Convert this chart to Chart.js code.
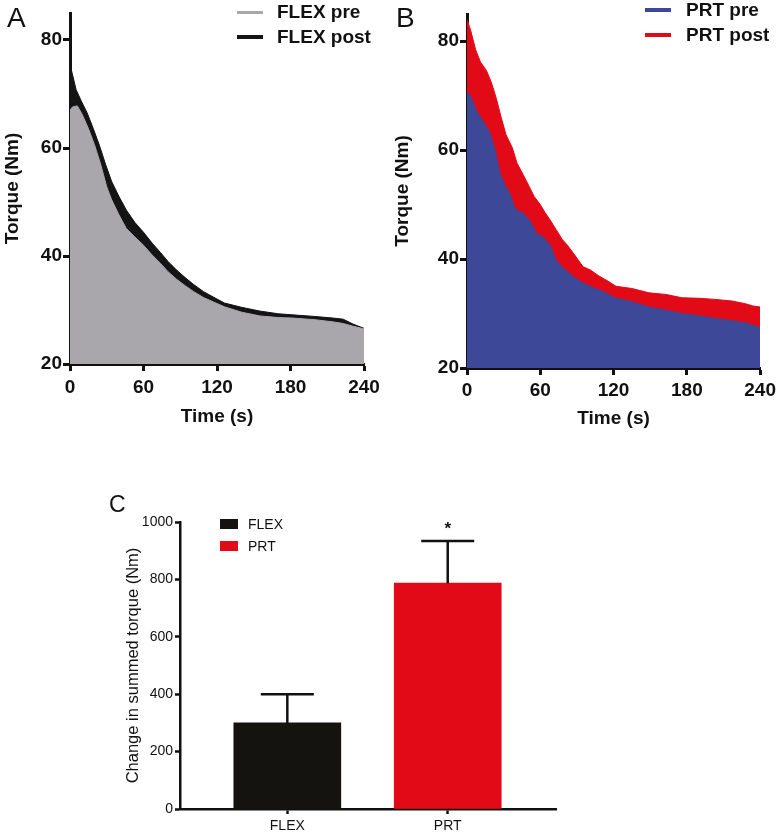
<!DOCTYPE html>
<html lang="en">
<head>
  <meta charset="UTF-8" />
  <title>Torque decline during fatiguing contractions</title>
  <script src="https://cdn.jsdelivr.net/npm/chart.js"></script>
  <style>
    body { margin: 0; background: #fff; font-family: "Liberation Sans", Arial, sans-serif; color: #111; }
    #page { position: relative; width: 780px; height: 836px; overflow: hidden; }
    canvas { position: absolute; }
    .letter { position: absolute; font-weight: normal; }
    .row { position: absolute; white-space: nowrap; }
    .row span { position: absolute; left: 0; }
  </style>
</head>
<body>
<div id="page">
  <canvas id="chartA" width="390" height="430" style="left:0;top:0"></canvas>
  <canvas id="chartB" width="390" height="432" style="left:390px;top:0"></canvas>
  <canvas id="chartC" width="780" height="366" style="left:0;top:470px"></canvas>

  <div class="letter" style="left:7px;top:4px;font-size:28px;line-height:28px">A</div>
  <div class="letter" style="left:396px;top:4px;font-size:28px;line-height:28px">B</div>
  <div class="letter" style="left:109px;top:493px;font-size:23px;line-height:23px">C</div>
</div>

<script>
  // Panel A - FLEX group, torque (Nm) over time (s)
  const flexPreTime = [0, 2, 6, 10, 15, 20, 25, 30, 34, 40, 46, 53, 60, 67, 74, 80, 87, 94, 101, 109, 117, 126, 140, 155, 170, 182, 200, 215, 223, 231, 240];
  const flexPreNm   = [67.0, 67.6, 67.8, 66.2, 63.6, 60.6, 57.0, 52.8, 50.4, 47.6, 45.1, 43.5, 42.0, 40.2, 38.6, 37.1, 35.7, 34.5, 33.4, 32.3, 31.5, 30.6, 29.6, 28.9, 28.6, 28.5, 28.2, 27.8, 27.5, 27.0, 26.5];
  const flexPostTime = [0, 5, 9, 14, 19, 24, 29, 34, 40, 46, 53, 60, 67, 74, 80, 87, 94, 101, 109, 117, 126, 140, 155, 170, 182, 200, 215, 223, 231, 240];
  const flexPostNm   = [75.5, 70.8, 68.8, 66.5, 63.6, 60.5, 57.0, 53.8, 51.0, 48.5, 46.2, 44.4, 42.4, 40.6, 39.0, 37.4, 36.0, 34.7, 33.4, 32.4, 31.3, 30.5, 29.8, 29.3, 29.1, 28.8, 28.5, 28.3, 27.4, 26.6];

  // Panel B - PRT group
  const prtPreTime = [0, 3, 8, 14, 19, 21, 23, 27, 31, 35, 39, 41, 46, 51, 54, 57, 62, 68, 73, 79, 87, 95, 103, 110, 122, 133, 149, 163, 176, 190, 203, 217, 230, 234, 240];
  const prtPreNm   = [70.6, 69.9, 67.1, 65.0, 63.1, 61.5, 60.1, 55.8, 53.6, 52.1, 49.5, 49.0, 48.4, 47.2, 46.0, 44.7, 44.1, 42.6, 39.8, 38.3, 36.8, 35.6, 34.8, 34.2, 32.8, 32.3, 31.2, 30.6, 30.0, 29.6, 29.1, 28.7, 28.2, 27.8, 27.5];
  const prtPostTime = [0, 3, 7, 11, 16, 20, 24, 28, 32, 37, 41, 46, 51, 55, 60, 64, 68, 73, 78, 82, 88, 95, 101, 108, 115, 122, 135, 149, 163, 176, 190, 203, 217, 228, 234, 240];
  const prtPostNm   = [84.0, 82.0, 78.5, 76.2, 74.6, 72.4, 69.5, 66.0, 62.8, 60.5, 57.6, 55.5, 53.3, 51.5, 50.0, 48.5, 47.2, 45.4, 43.6, 42.6, 40.8, 38.6, 38.0, 36.9, 36.0, 35.0, 34.6, 33.8, 33.5, 32.9, 32.8, 32.6, 32.3, 31.8, 31.4, 31.2];

  const timeTicks = [0, 60, 120, 180, 240];
  const torqueTicks = [20, 40, 60, 80];

  // Panel C - change in summed torque, mean and SEM
  const groups = ['FLEX', 'PRT'];
  const changeMean = [300, 787];
  const changeSem = [100, 147];
  const changeMark = ['', '*'];
  const groupColors = ['#15130f', '#e20a17'];

  Chart.defaults.font.family = '"Liberation Sans", Arial, sans-serif';
  Chart.defaults.color = '#111';

  const boldFont = { size: 19, weight: 'bold' };
  const axisBorder = { display: true, color: '#111', width: 3 };
  const tickGrid = len => ({ display: true, drawOnChartArea: false, drawTicks: true, tickLength: len, tickWidth: 3, tickColor: '#111' });

  function pts(t, v) {
    return t.map((x, i) => ({ x: x, y: v[i] }));
  }

  function torqueChart(id, sets, box) {
    return new Chart(document.getElementById(id), {
      type: 'line',
      data: {
        datasets: sets.map(s => ({
          label: s.label,
          data: pts(s.t, s.v),
          fill: 'start',
          backgroundColor: s.color,
          borderColor: s.color,
          borderWidth: 1,
          pointRadius: 0,
          tension: 0
        }))
      },
      options: {
        responsive: false,
        animation: false,
        events: [],
        layout: { padding: { top: box.top, right: box.right, left: 0, bottom: 0 } },
        plugins: { legend: { display: false }, tooltip: { enabled: false } },
        scales: {
          x: {
            type: 'linear', min: 0, max: 240,
            afterBuildTicks: s => { s.ticks = timeTicks.map(v => ({ value: v })); },
            afterFit: s => { s.height = box.xh; },
            border: axisBorder,
            grid: tickGrid(7),
            ticks: { font: boldFont, padding: box.xpad, maxRotation: 0 },
            title: { display: true, text: 'Time (s)', font: boldFont, padding: { top: 0, bottom: 1.5 } }
          },
          y: {
            min: 20, max: 85,
            afterBuildTicks: s => { s.ticks = torqueTicks.map(v => ({ value: v })); },
            afterFit: s => { s.width = box.yw; },
            border: axisBorder,
            grid: tickGrid(7),
            ticks: { font: boldFont, padding: 1 },
            title: { display: true, text: 'Torque (Nm)', font: boldFont, padding: { top: 1, bottom: 0 } }
          }
        }
      }
    });
  }

  const setsA = [
    { label: 'FLEX pre', t: flexPreTime, v: flexPreNm, color: '#a9a7ab', line: 3 },
    { label: 'FLEX post', t: flexPostTime, v: flexPostNm, color: '#141414', line: 4 }
  ];
  const setsB = [
    { label: 'PRT pre', t: prtPreTime, v: prtPreNm, color: '#3d4898', line: 4 },
    { label: 'PRT post', t: prtPostTime, v: prtPostNm, color: '#e20a17', line: 4 }
  ];

  torqueChart('chartA', setsA, { top: 13, right: 26, yw: 70, xh: 66, xpad: 5 });
  torqueChart('chartB', setsB, { top: 14, right: 18, yw: 77, xh: 64, xpad: 4 });

  // error bars + significance mark for panel C
  const errorBars = {
    id: 'errorBars',
    afterDatasetsDraw(chart) {
      const { ctx, scales: { x, y } } = chart;
      ctx.save();
      ctx.strokeStyle = '#111';
      ctx.lineWidth = 2.5;
      ctx.fillStyle = '#111';
      ctx.font = 'bold 17px "Liberation Sans", Arial, sans-serif';
      ctx.textAlign = 'center';
      changeMean.forEach((m, i) => {
        const px = x.getPixelForValue(i + 1);
        const top = y.getPixelForValue(m + changeSem[i]);
        ctx.beginPath();
        ctx.moveTo(px, y.getPixelForValue(m));
        ctx.lineTo(px, top);
        ctx.moveTo(px - 26.5, top);
        ctx.lineTo(px + 26.5, top);
        ctx.stroke();
        if (changeMark[i]) ctx.fillText(changeMark[i], px, top - 7);
      });
      ctx.restore();
    }
  };

  const cGrid = { display: true, offset: false, drawOnChartArea: false, tickLength: 5, tickWidth: 2.5, tickColor: '#111' };

  new Chart(document.getElementById('chartC'), {
    type: 'bar',
    data: {
      datasets: [{
        label: 'Change',
        data: groups.map((g, i) => ({ x: i + 1, y: changeMean[i] })),
        backgroundColor: groupColors,
        borderWidth: 0,
        barThickness: 107
      }]
    },
    options: {
      responsive: false,
      animation: false,
      events: [],
      layout: { padding: { top: 52, right: 224, left: 116, bottom: 0 } },
      plugins: { legend: { display: false }, tooltip: { enabled: false } },
      scales: {
        x: {
          type: 'linear', min: 0.331, max: 2.675, offset: false,
          afterBuildTicks: s => { s.ticks = groups.map((g, i) => ({ value: i + 1 })); },
          afterFit: s => { s.height = 27; },
          border: { display: true, color: '#111', width: 2.5 },
          grid: cGrid,
          ticks: { font: { size: 14 }, padding: 4, callback: v => groups[v - 1] }
        },
        y: {
          min: 0, max: 1000,
          afterFit: s => { s.width = 64; },
          border: { display: true, color: '#111', width: 2.5 },
          grid: cGrid,
          ticks: { stepSize: 200, font: { size: 14 }, padding: 2, callback: v => String(v) },
          title: { display: true, text: 'Change in summed torque (Nm)', font: { size: 16.5 }, padding: { top: 7.4, bottom: 0 } }
        }
      }
    },
    plugins: [errorBars]
  });

  // legends (html text)
  function lineLegend(left, top, step, sets, textX) {
    const page = document.getElementById('page');
    sets.forEach((s, i) => {
      const row = document.createElement('div');
      row.className = 'row';
      row.style.cssText = `left:${left}px;top:${top + i * step}px;height:24px;line-height:24px;font-size:19px;font-weight:bold;`;
      row.innerHTML = `<span style="top:${12 - s.line / 2}px;width:26px;height:${s.line}px;background:${s.color}"></span>` +
                      `<span style="left:${textX}px">${s.label}</span>`;
      page.appendChild(row);
    });
  }
  lineLegend(237, 0, 24.5, setsA, 40);
  lineLegend(645, -2, 24.5, setsB, 41);

  const page = document.getElementById('page');
  groups.forEach((g, i) => {
    const row = document.createElement('div');
    row.className = 'row';
    row.style.cssText = `left:220px;top:${513 + i * 22}px;height:22px;line-height:22px;font-size:14px;`;
    row.innerHTML = `<span style="top:6px;width:18px;height:10px;background:${groupColors[i]}"></span>` +
                    `<span style="left:28px">${g}</span>`;
    page.appendChild(row);
  });
</script>
</body>
</html>
